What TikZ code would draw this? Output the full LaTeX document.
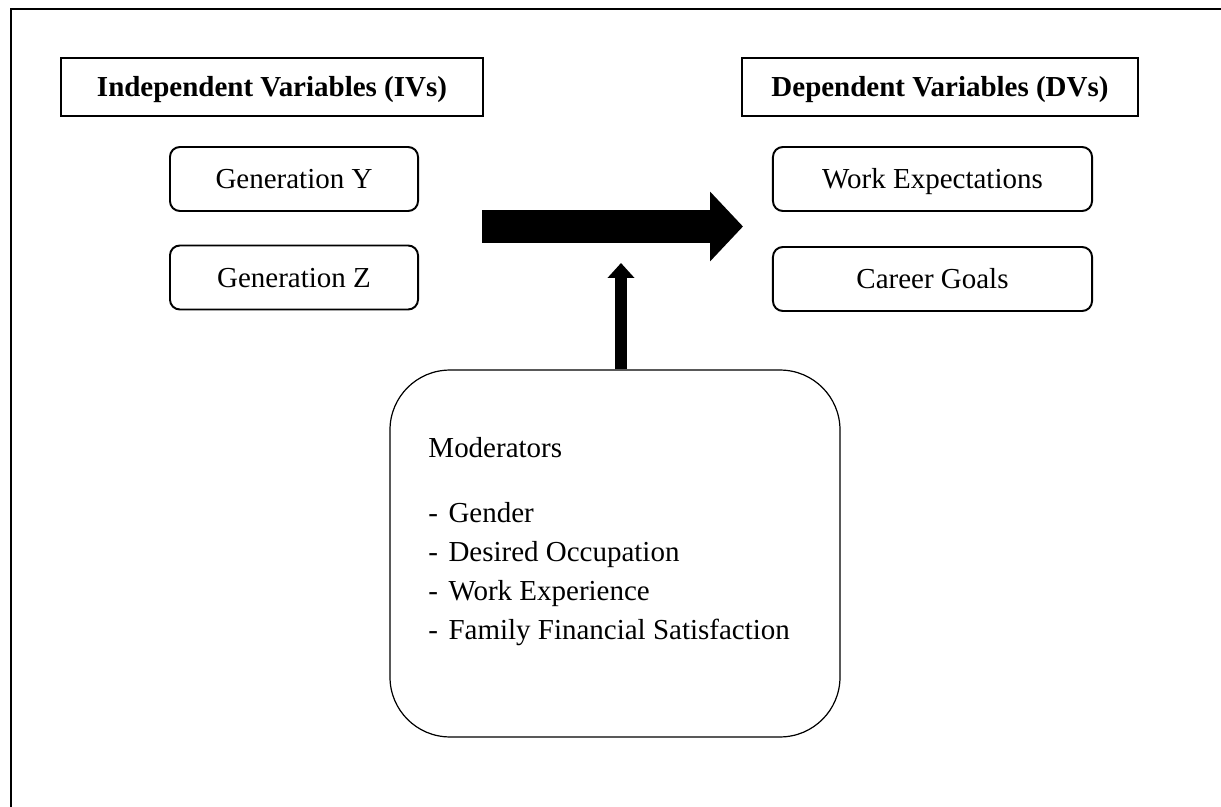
\documentclass[tikz,border=0pt]{standalone}
\usepackage{fontspec}
\setmainfont{Liberation Serif}
\usepackage{tikz}
\usetikzlibrary{arrows.meta}

\begin{document}
\begin{tikzpicture}[x=0.414pt, y=-0.414pt, font=\fontsize{12}{14.4}\selectfont,
  header/.style={draw, line width=0.6pt, minimum height=24pt, inner sep=0pt, text height=7.9pt, text depth=0pt, font=\fontsize{12}{14.4}\selectfont\bfseries},
  varbox/.style={draw, line width=0.8pt, rounded corners=4.1pt, minimum height=26.5pt, inner sep=0pt, text height=7.9pt, text depth=0pt},
  bigarrow/.style={line width=13.66pt, -{Triangle[length=13.66pt, width=28.15pt]}},
  modarrow/.style={line width=4.97pt, -{Triangle[length=6.2pt, width=10.8pt]}}]
  \useasboundingbox (0,0) rectangle (1221,807);
  \draw[line width=1.2pt] (11,807) -- (11,9) -- (1221,9);
  \node[header, minimum width=174.7pt] (ivhead) at (272,87) {Independent Variables (IVs)};
  \node[header, minimum width=163.9pt] (dvhead) at (940,87) {Dependent Variables (DVs)};
  \node[varbox, minimum width=102.7pt] (geny) at (294,179) {Generation Y};
  \node[varbox, minimum width=102.7pt] (genz) at (294,277.5) {Generation Z};
  \node[varbox, minimum width=132.1pt] (workexp) at (932.5,179) {Work Expectations};
  \node[varbox, minimum width=132.1pt] (career) at (932.5,279) {Career Goals};
  \node[draw, line width=0.5pt, rounded corners=24.8pt, minimum width=186.3pt, minimum height=151.9pt] (mod) at (615,553.5) {};
  \node[anchor=base west, inner sep=0pt] (modtitle) at (428,457) {Moderators};
  \foreach \txt [count=\i] in {Gender, Desired Occupation, Work Experience, Family Financial Satisfaction}
    \node[anchor=base west, inner sep=0pt] (item\i) at (428,{483+39*\i}) {\makebox[8.3pt][l]{-}\txt};
  \coordinate (bigtail) at (482,226.5); \coordinate (bighead) at (743,226.5);
  \draw[bigarrow] (bigtail) -- (bighead);
  \coordinate (modtip) at (621,263);
  \draw[modarrow] (modtip |- mod.north) -- (modtip);
\end{tikzpicture}
\end{document}
